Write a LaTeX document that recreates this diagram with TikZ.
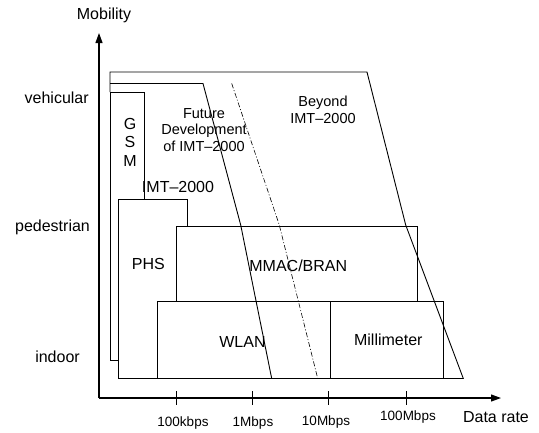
\documentclass[tikz,border=0pt]{standalone}
\usepackage{fontspec}
\setmainfont{Liberation Sans}
\usetikzlibrary{arrows.meta}
\begin{document}
\begin{tikzpicture}[x=1pt,y=-1pt,
  box/.style={draw=black,fill=white,line width=0.9pt},
  edge/.style={draw=black,line width=0.9pt,line join=miter},
  dashdotline/.style={draw=black,line width=0.6pt,dash pattern=on 5pt off 2pt on 1pt off 2pt},
  axisline/.style={draw=black,line width=1.1pt,-{Triangle[length=10pt,width=7pt]}},
  tick/.style={draw=black,line width=0.9pt},
  lbl/.style={inner sep=0pt,font=\fontsize{16}{18.5}\selectfont,align=center},
  small/.style={inner sep=0pt,font=\fontsize{14.5}{16.8}\selectfont,align=center},
  ticklbl/.style={inner sep=0pt,font=\fontsize{13.5}{15}\selectfont}]
\useasboundingbox (0,0) rectangle (539,432);

% axes
\coordinate (O) at (99,398);
\coordinate (Ytip) at (99,33);
\coordinate (Xtip) at (501,398);
\draw[axisline] (O) -- (Ytip);
\draw[axisline] (O) -- (Xtip);

% ticks
\foreach \n/\x in {t1/176.7,t2/252.3,t3/328.3,t4/406}{
  \coordinate (\n a) at (\x,391);
  \coordinate (\n b) at (\x,405);
  \draw[tick] (\n a) -- (\n b);
}

% boxes
\draw[box] (110,92) rectangle (144,360);
\draw[box] (118,199) rectangle (187,378);
\draw[box] (176,226) rectangle (417,301);
\draw[box] (157,301) rectangle (330,378);
\draw[box] (330,301) rectangle (443,378);

% regions
\coordinate (L0) at (110,72);
\coordinate (L1) at (110,83.5);
\coordinate (L2) at (110,92);
\coordinate (F0) at (203,83.5);
\coordinate (F1) at (240.7,225);
\coordinate (F2) at (271.7,378.5);
\coordinate (B0) at (367,72);
\coordinate (B1) at (405.7,225);
\coordinate (B2) at (463.3,378.5);
\coordinate (B3) at (443,378.5);
\coordinate (D0) at (231.7,83.5);
\coordinate (D1) at (279.3,225);
\coordinate (D2) at (317.7,378.5);
\draw[edge] (L2) -- (L0) -- (B0) -- (B1) -- (B2) -- (B3);
\draw[edge] (L1) -- (F0) -- (F1) -- (F2);
\draw[dashdotline] (D0) -- (D1) -- (D2);

% axis labels
\node[lbl] (mob) at (104,15) {Mobility};
\node[lbl] (veh) at (56.7,98) {vehicular};
\node[lbl] (ped) at (52.5,227) {pedestrian};
\node[lbl] (ind) at (57.5,357) {indoor};
\node[lbl] (drate) at (496,417) {Data rate};
\node[ticklbl] (k100) at (183,423) {100kbps};
\node[ticklbl] (m1) at (253,423) {1Mbps};
\node[ticklbl] (m10) at (326,422) {10Mbps};
\node[ticklbl] (m100) at (408,417) {100Mbps};

% region labels
\node[lbl] (gsm) at (130,142) {G\\S\\M};
\node[lbl] (imt) at (178,187) {IMT–2000};
\node[lbl] (phs) at (148.3,264) {PHS};
\node[lbl] (mmac) at (298.3,266) {MMAC/BRAN};
\node[lbl] (wlan) at (242.5,341.7) {WLAN};
\node[lbl] (mm) at (388.3,340) {Millimeter};
\node[small] (fut) at (204,130) {Future\\Development\\of IMT–2000};
\node[small] (bey) at (323,110) {Beyond\\IMT–2000};
\end{tikzpicture}
\end{document}
